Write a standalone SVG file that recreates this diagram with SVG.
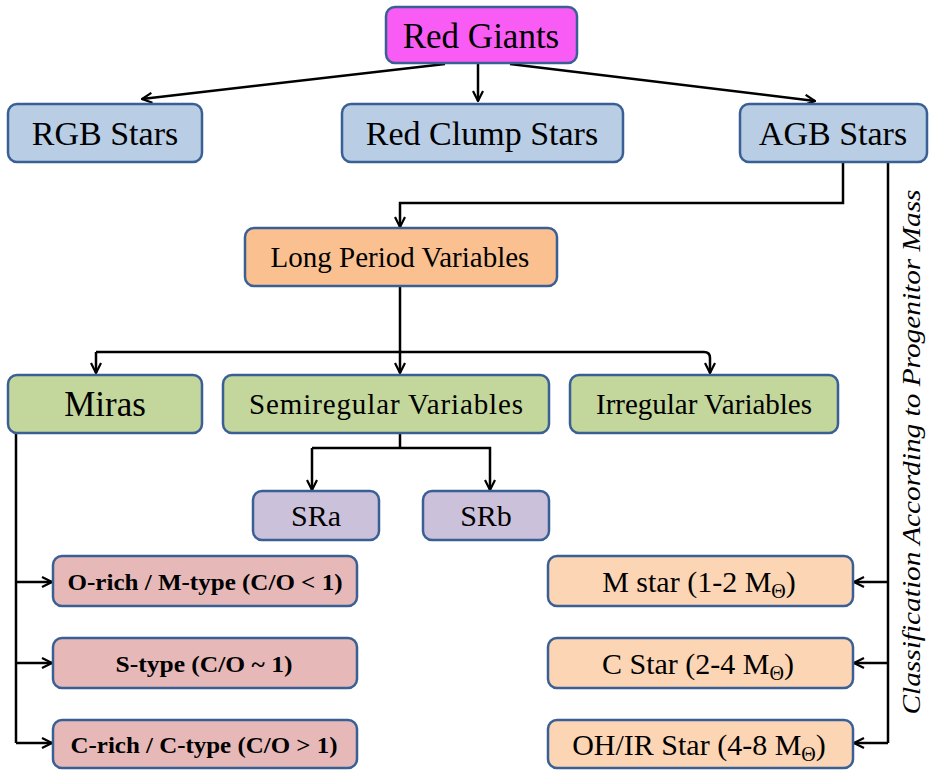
<svg xmlns="http://www.w3.org/2000/svg" width="929" height="770" viewBox="0 0 929 770" font-family="'Liberation Serif', 'DejaVu Serif', serif">
<defs>
<marker id="ah" viewBox="0 0 12 12" refX="11" refY="6" markerWidth="12" markerHeight="12" markerUnits="userSpaceOnUse" orient="auto">
<path d="M1,1 L11,6 L1,11" fill="none" stroke="#000" stroke-width="2.2"/>
</marker>
<style>
.box{stroke:#3A5F95;stroke-width:2.5}
.mag{fill:#F95CF5}
.blue{fill:#B9CDE5}
.lpv{fill:#FAC090}
.grn{fill:#C3D69B}
.pur{fill:#CCC1DA}
.pnk{fill:#E6B9B8}
.org{fill:#FCD5B5}
text{fill:#000;text-anchor:middle}
.b{font-weight:bold}
.c{fill:none;stroke:#000;stroke-width:2.5}
.a{marker-end:url(#ah)}
</style>
</defs>
<g id="connectors">
<line class="c a" x1="445" y1="64" x2="142" y2="99"/>
<line class="c a" x1="478" y1="64" x2="478" y2="101"/>
<line class="c a" x1="510" y1="64" x2="815" y2="101"/>
<path class="c a" d="M843,162 V203 H400 V227"/>
<path class="c" d="M400,286 V352"/>
<path class="c a" d="M96,352 H400 V373"/>
<path class="c a" d="M96,352 V373"/>
<path class="c a" d="M400,352 H704 Q710,352 710,358 V373"/>
<path class="c" d="M400,433 V448"/>
<path class="c a" d="M312,448 V490"/>
<path class="c a" d="M312,448 H490 V490"/>
<path class="c" d="M16,433 V743"/>
<path class="c a" d="M16,582 H52"/>
<path class="c a" d="M16,663 H52"/>
<path class="c a" d="M16,743 H52"/>
<path class="c" d="M888,162 V743"/>
<path class="c a" d="M888,582 H854"/>
<path class="c a" d="M888,663 H854"/>
<path class="c a" d="M888,743 H854"/>
</g>
<g id="red-giants"><rect class="box mag" x="386" y="7" width="191" height="56" rx="9"/><text x="481" y="48" font-size="35">Red Giants</text></g>
<g id="rgb-stars"><rect class="box blue" x="8" y="104" width="194" height="58" rx="9"/><text x="105" y="145" font-size="34">RGB Stars</text></g>
<g id="red-clump-stars"><rect class="box blue" x="342" y="104" width="281" height="58" rx="9"/><text x="482" y="145" font-size="34">Red Clump Stars</text></g>
<g id="agb-stars"><rect class="box blue" x="740" y="104" width="187" height="58" rx="9"/><text x="833" y="145" font-size="34">AGB Stars</text></g>
<g id="long-period-variables"><rect class="box lpv" x="245" y="228" width="312" height="58" rx="9"/><text x="400" y="267" font-size="29">Long Period Variables</text></g>
<g id="miras"><rect class="box grn" x="8" y="375" width="194" height="58" rx="9"/><text x="105" y="416" font-size="35">Miras</text></g>
<g id="semiregular-variables"><rect class="box grn" x="223" y="375" width="326" height="58" rx="9"/><text x="386" y="414" font-size="29" textLength="274">Semiregular Variables</text></g>
<g id="irregular-variables"><rect class="box grn" x="570" y="375" width="268" height="58" rx="9"/><text x="704" y="414" font-size="29">Irregular Variables</text></g>
<g id="sra"><rect class="box pur" x="253" y="491" width="126" height="49" rx="9"/><text x="316" y="526" font-size="30">SRa</text></g>
<g id="srb"><rect class="box pur" x="423" y="491" width="126" height="49" rx="9"/><text x="486" y="526" font-size="30">SRb</text></g>
<g id="o-rich"><rect class="box pnk" x="53" y="556" width="304" height="50" rx="9"/><text class="b" x="205" y="590" font-size="24" textLength="275" lengthAdjust="spacingAndGlyphs">O-rich / M-type (C/O &lt; 1)</text></g>
<g id="s-type"><rect class="box pnk" x="53" y="638" width="304" height="50" rx="9"/><text class="b" x="204" y="672" font-size="24" textLength="177" lengthAdjust="spacingAndGlyphs">S-type (C/O ~ 1)</text></g>
<g id="c-rich"><rect class="box pnk" x="53" y="720" width="304" height="48" rx="9"/><text class="b" x="204" y="753" font-size="24" textLength="267" lengthAdjust="spacingAndGlyphs">C-rich / C-type (C/O &gt; 1)</text></g>
<g id="m-star"><rect class="box org" x="548" y="556" width="305" height="50" rx="9"/><text x="699" y="592" font-size="30">M star (1-2 M<tspan font-size="20" dy="6">Θ</tspan><tspan dy="-6">)</tspan></text></g>
<g id="c-star"><rect class="box org" x="548" y="638" width="305" height="50" rx="9"/><text x="698" y="674" font-size="30">C Star (2-4 M<tspan font-size="20" dy="6">Θ</tspan><tspan dy="-6">)</tspan></text></g>
<g id="ohir-star"><rect class="box org" x="548" y="720" width="305" height="48" rx="9"/><text x="699" y="755" font-size="30">OH/IR Star (4-8 M<tspan font-size="20" dy="6">Θ</tspan><tspan dy="-6">)</tspan></text></g>
<g id="mass-label"><text transform="translate(920,452) rotate(-90)" font-size="25" font-style="italic" textLength="525" lengthAdjust="spacingAndGlyphs">Classification According to Progenitor Mass</text></g>
</svg>
